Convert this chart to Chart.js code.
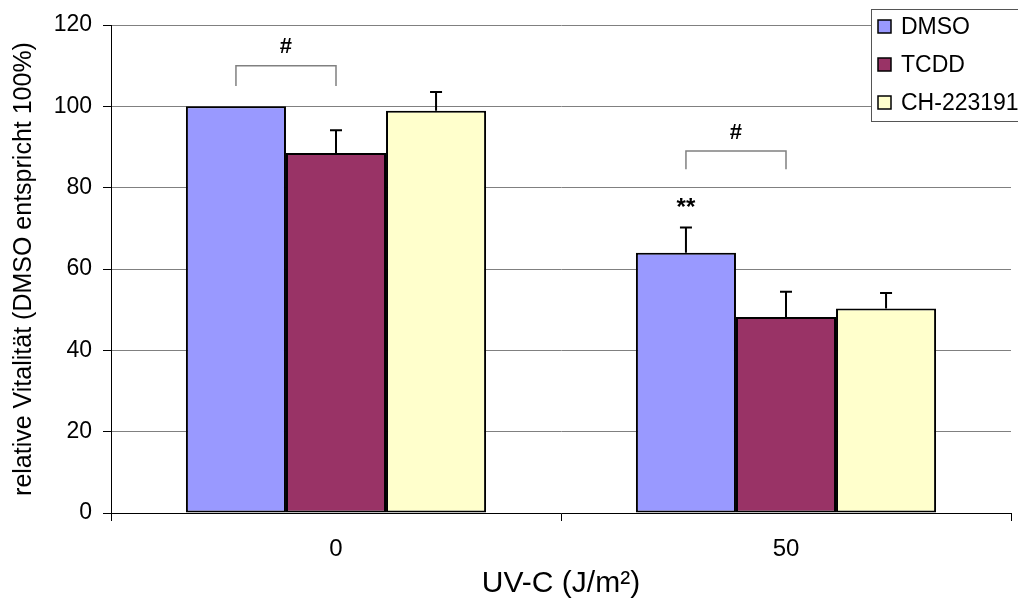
<!DOCTYPE html>
<html>
<head>
<meta charset="utf-8">
<script src="https://cdn.jsdelivr.net/npm/chart.js@4.4.0/dist/chart.umd.min.js"></script>
<style>
    body { margin: 0; background: #fff; }
    canvas { display: block; }
</style>
</head>
<body>
<canvas id="myChart" width="1018" height="604"></canvas>
<script>
var doses = ['0', '50'];
var seriesNames = ['DMSO', 'TCDD', 'CH-223191'];
var dmso = [100, 64.0];
var tcdd = [88.5, 48.2];
var ch = [98.9, 50.3];
var dmsoErr = [0, 6.2];
var tcddErr = [5.6, 6.2];
var chErr = [4.6, 3.8];
var yTicks = [0, 20, 40, 60, 80, 100, 120];

// significance marks: # bracket DMSO vs TCDD for each dose, ** over DMSO at 50
var hashBracketTop = [110, 89];
var hashBracketFoot = [105, 84.5];
var hashLabelAt = [114.5, 93.4];
var starLabelAt = [null, 76.2];

var colors = ['#9999FF', '#993366', '#FFFFCC'];
var errors = [dmsoErr, tcddErr, chErr];
var FONT = '"Liberation Sans", Arial, sans-serif';

var errorBars = {
    id: 'errorBars',
    afterDatasetsDraw: function(chart) {
        var ctx = chart.ctx;
        var y = chart.scales.y;
        ctx.save();
        ctx.strokeStyle = '#000';
        ctx.lineWidth = 2;
        chart.data.datasets.forEach(function(ds, i) {
            var meta = chart.getDatasetMeta(i);
            meta.data.forEach(function(bar, j) {
                var err = errors[i][j];
                if (!err) return;
                var top = y.getPixelForValue(ds.data[j] + err);
                ctx.beginPath();
                ctx.moveTo(bar.x, y.getPixelForValue(ds.data[j]));
                ctx.lineTo(bar.x, top);
                ctx.moveTo(bar.x - 6, top);
                ctx.lineTo(bar.x + 6, top);
                ctx.stroke();
            });
        });
        ctx.restore();
    }
};

var marks = {
    id: 'marks',
    afterDatasetsDraw: function(chart) {
        var ctx = chart.ctx;
        var y = chart.scales.y;
        var a = chart.getDatasetMeta(0).data;
        var b = chart.getDatasetMeta(1).data;
        ctx.save();
        ctx.textAlign = 'center';
        ctx.textBaseline = 'middle';
        ctx.fillStyle = '#000';
        for (var j = 0; j < doses.length; j++) {
            var x1 = a[j].x, x2 = b[j].x;
            var top = y.getPixelForValue(hashBracketTop[j]);
            var foot = y.getPixelForValue(hashBracketFoot[j]);
            ctx.strokeStyle = '#808080';
            ctx.lineWidth = 1.5;
            ctx.beginPath();
            ctx.moveTo(x1, foot);
            ctx.lineTo(x1, top);
            ctx.lineTo(x2, top);
            ctx.lineTo(x2, foot);
            ctx.stroke();
            ctx.font = 'bold 22px ' + FONT;
            ctx.fillText('#', (x1 + x2) / 2, y.getPixelForValue(hashLabelAt[j]));
            if (starLabelAt[j] != null) {
                ctx.font = 'bold 24px ' + FONT;
                ctx.fillText('**', x1, y.getPixelForValue(starLabelAt[j]) + 5);
            }
        }
        ctx.restore();
    }
};

var boxLegend = {
    id: 'boxLegend',
    afterDraw: function(chart) {
        var ctx = chart.ctx;
        ctx.save();
        ctx.fillStyle = '#fff';
        ctx.fillRect(871, 9, 170, 112);
        ctx.strokeStyle = '#555';
        ctx.lineWidth = 1;
        ctx.strokeRect(871.5, 9.5, 170, 112);
        ctx.font = '23px ' + FONT;
        ctx.textBaseline = 'middle';
        chart.data.datasets.forEach(function(ds, i) {
            var cy = 27 + i * 38;
            ctx.fillStyle = ds.backgroundColor;
            ctx.fillRect(878, cy - 7, 13, 13);
            ctx.strokeStyle = '#000';
            ctx.lineWidth = 1.5;
            ctx.strokeRect(878, cy - 7, 13, 13);
            ctx.fillStyle = '#000';
            ctx.fillText(ds.label, 901, cy + 1);
        });
        ctx.restore();
    }
};

var datasets = [dmso, tcdd, ch].map(function(d, i) {
    return {
        label: seriesNames[i],
        data: d,
        backgroundColor: colors[i],
        borderColor: '#000',
        borderWidth: 2,
        borderSkipped: false,
        categoryPercentage: 0.667,
        barPercentage: 1.0
    };
});

var ctx = document.getElementById('myChart').getContext('2d');
var chart = new Chart(ctx, {
    type: 'bar',
    data: { labels: doses, datasets: datasets },
    options: {
        responsive: false,
        animation: false,
        layout: { padding: { top: 25, right: 7, left: 0, bottom: 0 } },
        plugins: {
            legend: { display: false },
            tooltip: { enabled: false }
        },
        scales: {
            x: {
                grid: { drawOnChartArea: false, tickLength: 8, tickColor: '#000' },
                border: { color: '#000', width: 1 },
                ticks: { color: '#000', padding: 14, font: { family: FONT, size: 24 } },
                title: {
                    display: true,
                    text: 'UV-C (J/m²)',
                    color: '#000',
                    font: { family: FONT, size: 30 },
                    padding: { top: 0, bottom: 2 }
                },
                afterFit: function(scale) { scale.height = 91; }
            },
            y: {
                min: 0,
                max: 120,
                afterBuildTicks: function(scale) {
                    scale.ticks = yTicks.map(function(v) { return { value: v }; });
                },
                grid: { color: '#808080', tickLength: 8, tickColor: '#000' },
                border: { color: '#000', width: 1 },
                ticks: { color: '#000', padding: 11, font: { family: FONT, size: 23 } },
                title: {
                    display: true,
                    text: 'relative Vitalität (DMSO entspricht 100%)',
                    color: '#000',
                    font: { family: FONT, size: 25 },
                    padding: { top: 9, bottom: 0 }
                },
                afterFit: function(scale) { scale.width = 111; }
            }
        }
    },
    plugins: [errorBars, marks, boxLegend]
});
</script>
</body>
</html>
